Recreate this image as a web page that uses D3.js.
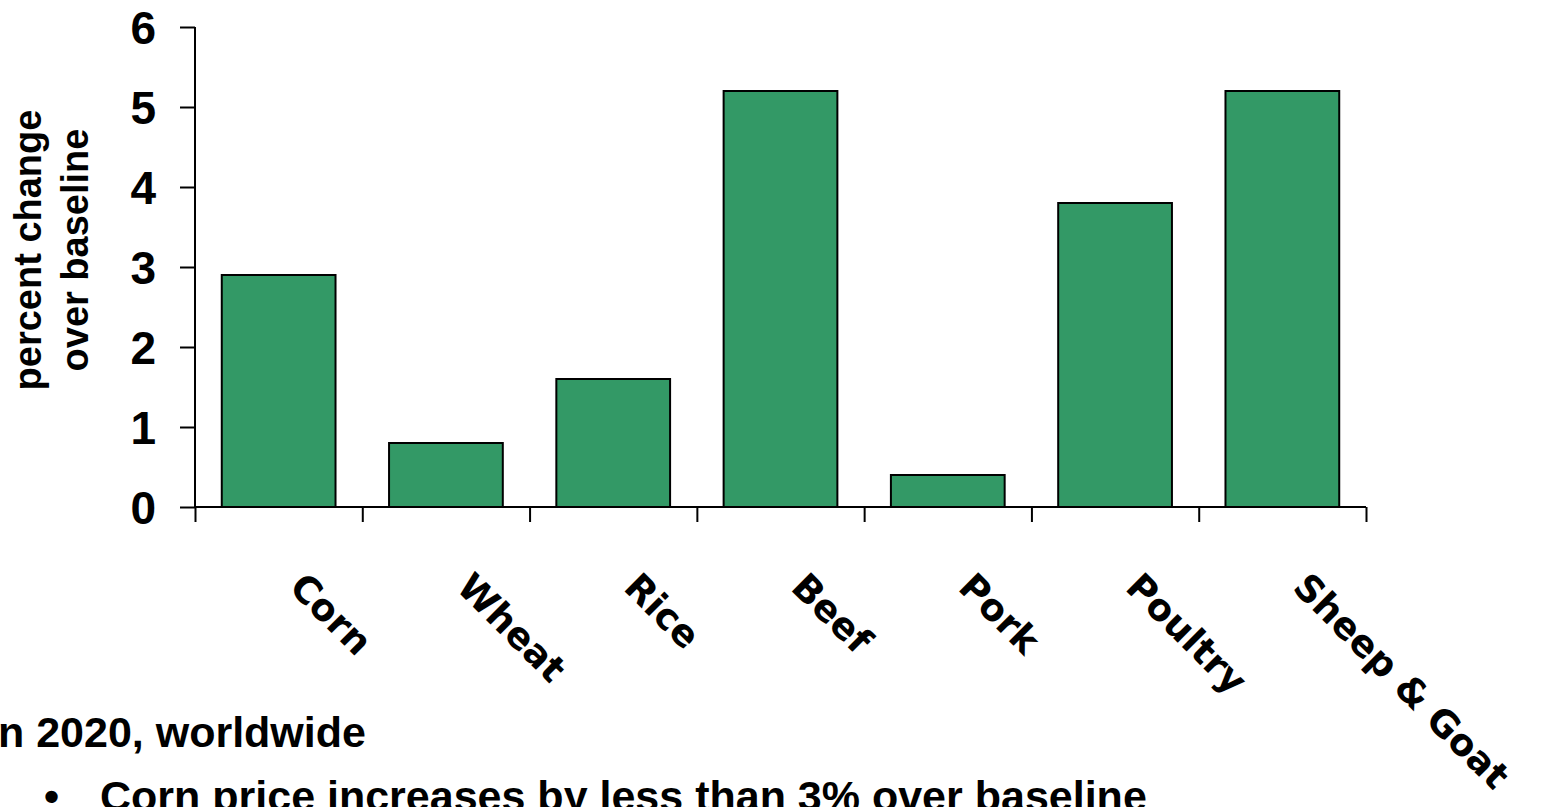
<!DOCTYPE html>
<html>
<head>
<meta charset="utf-8">
<script src="https://cdn.jsdelivr.net/npm/d3@7"></script>
<style>
  html, body { margin: 0; padding: 0; background: #fff; overflow: hidden; }
  svg { display: block; }
</style>
</head>
<body>
<svg id="chart" width="1547" height="807"></svg>
<script>
const categories = ["Corn", "Wheat", "Rice", "Beef", "Pork", "Poultry", "Sheep & Goat"];
const values = [2.9, 0.8, 1.6, 5.2, 0.4, 3.8, 5.2];
const yTicks = [0, 1, 2, 3, 4, 5, 6];
const yTitleLines = ["percent change", "over baseline"];
const noteLines = ["In 2020, worldwide", "Corn price increases by less than 3% over baseline"];

const svg = d3.select("#chart");
const plotLeft = 195, plotRight = 1366, plotTop = 27, plotBottom = 507;

const x = d3.scaleBand().domain(categories).range([plotLeft, plotRight]).paddingInner(0.32).paddingOuter(0.16);
const xEdge = d3.scaleLinear().domain([0, categories.length]).range([plotLeft, plotRight]);
const y = d3.scaleLinear().domain([0, 6]).range([plotBottom, plotTop]);

// bars
svg.append("g").selectAll("rect").data(values).join("rect")
  .attr("x", (d, i) => x(categories[i]))
  .attr("y", d => y(d))
  .attr("width", x.bandwidth())
  .attr("height", d => y(0) - y(d))
  .attr("fill", "#339966")
  .attr("stroke", "#000")
  .attr("stroke-width", 2);

// y axis
const yAxis = svg.append("g").attr("transform", `translate(${plotLeft},0)`)
  .call(d3.axisLeft(y).tickValues(yTicks).tickSize(15).tickPadding(24).tickFormat(d3.format("d")));
yAxis.select(".domain").attr("stroke", "#000").attr("stroke-width", 2).attr("d", `M0,${plotTop}V${plotBottom}`);
yAxis.selectAll(".tick line").attr("stroke", "#000").attr("stroke-width", 2);
yAxis.selectAll(".tick text")
  .attr("font-family", "'Liberation Sans', Arial, sans-serif")
  .attr("font-weight", "bold").attr("font-size", 46).attr("fill", "#000")
  .attr("dy", "0.36em");

// x axis with boundary ticks
const xAxis = svg.append("g").attr("transform", `translate(0,${plotBottom})`)
  .call(d3.axisBottom(xEdge).tickValues(d3.range(categories.length + 1)).tickSize(15).tickFormat(""));
xAxis.select(".domain").attr("stroke", "#000").attr("stroke-width", 2).attr("d", `M${plotLeft},0H${plotRight}`);
xAxis.selectAll(".tick line").attr("stroke", "#000").attr("stroke-width", 2);

// category labels rotated
svg.append("g").selectAll("text").data(categories).join("text")
  .attr("transform", d => `translate(${x(d) + x.bandwidth() / 2 + 9},589) rotate(45)`)
  .attr("text-anchor", "start")
  .attr("font-family", "'DejaVu Sans', sans-serif")
  .attr("font-weight", "bold")
  .attr("font-size", 37)
  .attr("fill", "#000")
  .text(d => d);

// y title
const yt = svg.append("text")
  .attr("transform", "translate(0,250) rotate(-90)")
  .attr("text-anchor", "middle")
  .attr("font-family", "'Liberation Sans', Arial, sans-serif")
  .attr("font-weight", "bold")
  .attr("font-size", 38)
  .attr("fill", "#000");
yt.selectAll("tspan").data(yTitleLines).join("tspan")
  .attr("x", 0)
  .attr("y", (d, i) => 41 + i * 47)
  .text(d => d);

// notes
svg.append("text")
  .attr("x", -14).attr("y", 747)
  .attr("font-family", "'Liberation Sans', Arial, sans-serif")
  .attr("font-weight", "bold").attr("font-size", 43).attr("fill", "#000")
  .text(noteLines[0]);
svg.append("text")
  .attr("x", 44).attr("y", 811)
  .attr("font-family", "'Liberation Sans', Arial, sans-serif")
  .attr("font-weight", "bold").attr("font-size", 43).attr("fill", "#000")
  .text("•");
svg.append("text")
  .attr("x", 100).attr("y", 811)
  .attr("font-family", "'Liberation Sans', Arial, sans-serif")
  .attr("font-weight", "bold").attr("font-size", 43).attr("fill", "#000")
  .text(noteLines[1]);
</script>
</body>
</html>
